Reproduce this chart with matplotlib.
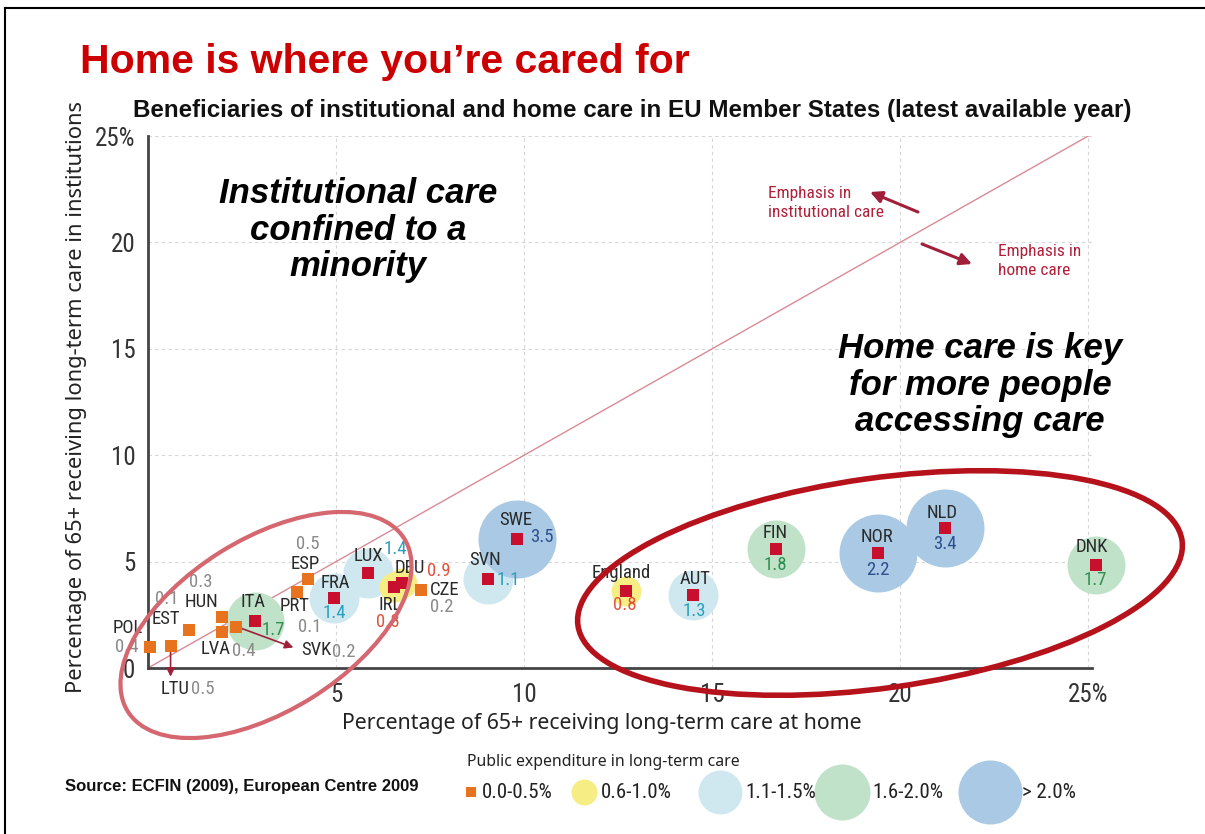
import numpy as np
import matplotlib.pyplot as plt
from matplotlib.patches import Ellipse
from matplotlib.lines import Line2D

W, H = 1205, 834

countries = ["POL", "LTU", "EST", "HUN", "LVA", "SVK", "ITA", "PRT", "ESP", "FRA", "LUX",
             "DEU", "IRL", "CZE", "SVN", "SWE", "England", "AUT", "FIN", "NOR", "NLD", "DNK"]
home = [0.05, 0.6, 1.1, 1.97, 1.97, 2.35, 2.85, 3.95, 4.25, 4.95, 5.85,
        6.75, 6.55, 7.25, 9.05, 9.8, 12.7, 14.5, 16.7, 19.4, 21.2, 25.2]
inst = [1.0, 1.05, 1.8, 2.4, 1.7, 1.95, 2.2, 3.55, 4.2, 3.3, 4.45,
        4.0, 3.8, 3.65, 4.2, 6.05, 3.6, 3.45, 5.6, 5.4, 6.6, 4.85]
spend = [0.4, 0.5, 0.1, 0.3, 0.4, 0.2, 1.7, 0.1, 0.5, 1.4, 1.4,
         0.9, 0.8, 0.2, 1.1, 3.5, 0.8, 1.3, 1.8, 2.2, 3.4, 1.7]

cat_labels = ["0.0-0.5%", "0.6-1.0%", "1.1-1.5%", "1.6-2.0%", "> 2.0%"]
cat_colors = ["#e8731e", "#f6ee84", "#cfe8f0", "#c0e2c9", "#a9c9e4"]
val_colors = ["#8a8a8a", "#e0533e", "#2b9fbf", "#2f8f4f", "#2d4f8f"]
cat_radius = [0, 15, 25, 29, 39]  # px


def category(v):
    if v <= 0.5:
        return 0
    if v <= 1.0:
        return 1
    if v <= 1.5:
        return 2
    if v <= 2.0:
        return 3
    return 4


# label offsets in pixels: name dx, dy, value dx, dy
offsets = {
    "POL": (-22, 19, -23, 0), "LTU": (4, -43, 32, -43), "EST": (-23, 11, -23, 31),
    "HUN": (-21, 15, -21, 35), "LVA": (-6, -17, 22, -19), "SVK": (80, -23, 107, -25),
    "ITA": (-2, 19, 18, -9), "PRT": (-2, -14, 13, -35), "ESP": (-3, 15, 0, 35),
    "FRA": (1, 15, 0, -15), "LUX": (0, 17, 27, 24), "DEU": (8, 15, 37, 12),
    "IRL": (-4, -18, -7, -35), "CZE": (24, 0, 21, -17), "SVN": (-3, 19, 20, -1),
    "SWE": (-1, 19, 25, 2), "England": (-4, 18, -1, -14), "AUT": (2, 16, 1, -16),
    "FIN": (-1, 16, -1, -16), "NOR": (-1, 16, 0, -17), "NLD": (-3, 15, 0, -16),
    "DNK": (-4, 18, 0, -15),
}
arrows = {"SVK": (57, -21), "LTU": (0, -31)}

narrow = ["Roboto Condensed", "Liberation Sans Narrow", "Roboto", "DejaVu Sans"]
plt.rcParams["font.family"] = ["Liberation Sans", "DejaVu Sans"]

fig = plt.figure(figsize=(W / 100, H / 100), dpi=100)
ax = fig.add_axes([148 / W, 1 - 668 / H, (1092 - 148) / W, (668 - 136) / H])
ax.set_xlim(0, 25.1)
ax.set_ylim(0, 25)

ax.set_xticks([5, 10, 15, 20, 25])
ax.set_xticklabels(["5", "10", "15", "20", "25%"])
ax.set_yticks([0, 5, 10, 15, 20, 25])
ax.set_yticklabels(["0", "5", "10", "15", "20", "25%"])
ax.tick_params(length=0, labelsize=18, labelcolor="#333333")
ax.tick_params(axis="x", pad=11)
ax.tick_params(axis="y", pad=9)
for lab in ax.get_xticklabels() + ax.get_yticklabels():
    lab.set_family(narrow)
ax.grid(True, ls=(0, (3, 3)), color="#d6d6d6", lw=0.8)
ax.set_axisbelow(True)
for s in ["top", "right"]:
    ax.spines[s].set_visible(False)
for s in ["left", "bottom"]:
    ax.spines[s].set_color("#444444")
    ax.spines[s].set_linewidth(2)

ax.set_xlabel("Percentage of 65+ receiving long-term care at home", fontsize=15.3,
              family=["Noto Sans", "DejaVu Sans"], color="#222222")
ax.xaxis.set_label_coords((602 - 148) / 944, -0.085)
ax.set_ylabel("Percentage of 65+ receiving long-term care in institutions", fontsize=15.8,
              family=["Noto Sans", "DejaVu Sans"], color="#222222")
ax.yaxis.set_label_coords(-(148 - 87) / 944, 0.51)

ax.plot([0, 25], [0, 25], color="#d98a96", lw=1, zorder=1)

cats = [category(v) for v in spend]
for i, c in enumerate(countries):
    k = cats[i]
    if k > 0:
        s = (2 * cat_radius[k] * 0.72) ** 2
        ax.scatter(home[i], inst[i], s=s, color=cat_colors[k], lw=0, zorder=2, clip_on=False)
for i, c in enumerate(countries):
    k = cats[i]
    sq = cat_colors[0] if k == 0 else "#c8102e"
    ax.scatter(home[i], inst[i], s=70, marker="s", color=sq, lw=0, zorder=4, clip_on=False)
    ndx, ndy, vdx, vdy = offsets[c]
    ax.annotate(c, (home[i], inst[i]), xytext=(ndx, ndy), textcoords="offset pixels",
                ha="center", va="center", fontsize=13.5, family=narrow, color="#2a2a2a",
                zorder=5, annotation_clip=False)
    ax.annotate(f"{spend[i]:.1f}", (home[i], inst[i]), xytext=(vdx, vdy),
                textcoords="offset pixels", ha="center", va="center", fontsize=13.5,
                family=narrow, color=val_colors[k], zorder=5, annotation_clip=False)
    if c in arrows:
        adx, ady = arrows[c]
        ax.annotate("", (home[i], inst[i]), xytext=(adx, ady), textcoords="offset pixels",
                    arrowprops=dict(arrowstyle="<|-, head_width=0.25, head_length=0.5",
                                    color="#a0203a", lw=1.2, shrinkA=0, shrinkB=0),
                    zorder=3, annotation_clip=False)

# overlay in pixel coordinates
pax = fig.add_axes([0, 0, 1, 1], zorder=3)
pax.set_xlim(0, W)
pax.set_ylim(H, 0)
pax.axis("off")
pax.patch.set_alpha(0)

pax.add_patch(Ellipse((266, 625), 326, 172, angle=-32, fill=False, ec="#d4676f", lw=3))
pax.add_patch(Ellipse((880, 583), 610, 210, angle=-8, fill=False, ec="#b5121b", lw=4))

pax.text(80, 73, "Home is where you\u2019re cared for", fontsize=29.5, fontweight="bold",
         color="#cc0000", ha="left", va="baseline")
pax.text(133, 117, "Beneficiaries of institutional and home care in EU Member States (latest available year)",
         fontsize=17.4, fontweight="bold", color="#111111", ha="left", va="baseline")

pax.text(358, 230, "Institutional care\nconfined to a\nminority", fontsize=25,
         fontweight="bold", style="italic", ha="center", va="center", linespacing=1.12)
pax.text(980, 385, "Home care is key\nfor more people\naccessing care", fontsize=25,
         fontweight="bold", style="italic", ha="center", va="center", linespacing=1.12)

pax.text(768, 203, "Emphasis in\ninstitutional care", fontsize=12.5, family=narrow,
         color="#b0203a", ha="left", va="center", linespacing=1.3)
pax.text(998, 261, "Emphasis in\nhome care", fontsize=12.5, family=narrow,
         color="#b0203a", ha="left", va="center", linespacing=1.3)
pax.annotate("", (870, 192), (918, 212),
             arrowprops=dict(arrowstyle="-|>, head_width=0.35, head_length=0.7",
                             color="#a0203a", lw=2.2, shrinkA=0, shrinkB=0))
pax.annotate("", (972, 264), (922, 244),
             arrowprops=dict(arrowstyle="-|>, head_width=0.35, head_length=0.7",
                             color="#a0203a", lw=2.2, shrinkA=0, shrinkB=0))

pax.text(65, 787, "Source: ECFIN (2009), European Centre 2009", fontsize=12,
         fontweight="bold", color="#111111", ha="left", va="center")

# legend
pax.text(467, 762, "Public expenditure in long-term care", fontsize=11.4,
         family=["Noto Sans", "DejaVu Sans"], color="#222222", ha="left", va="center")
leg_x = [471, 584, 720, 842, 990]
leg_r = [0, 13, 22, 28, 32]
leg_tx = [482, 601, 745, 872, 1022]
for k in range(5):
    if k == 0:
        pax.scatter(leg_x[k], 792, s=45, marker="s", color=cat_colors[0], lw=0)
    else:
        pax.scatter(leg_x[k], 792, s=(2 * leg_r[k] * 0.72) ** 2, color=cat_colors[k], lw=0)
    pax.text(leg_tx[k], 793, cat_labels[k], fontsize=15, family=narrow,
             color="#222222", ha="left", va="center")

fig.add_artist(Line2D([5 / W, 5 / W], [0, 1 - 8 / H], color="black", lw=1.5))
fig.add_artist(Line2D([5 / W, 1], [1 - 8 / H, 1 - 8 / H], color="black", lw=1.5))

fig.savefig("out.png", dpi=100)
